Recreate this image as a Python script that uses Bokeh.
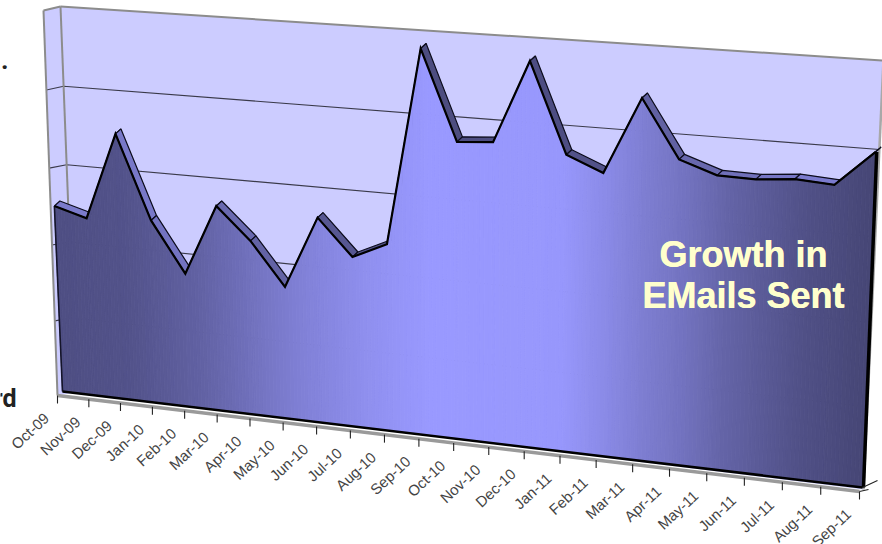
import numpy as np
from bokeh.plotting import figure
from bokeh.models import Range1d
from bokeh.core.properties import value
from bokeh.embed import file_html
from bokeh.resources import INLINE

months = ["Oct-09", "Nov-09", "Dec-09", "Jan-10", "Feb-10", "Mar-10", "Apr-10", "May-10",
          "Jun-10", "Jul-10", "Aug-10", "Sep-10", "Oct-10", "Nov-10", "Dec-10", "Jan-11",
          "Feb-11", "Mar-11", "Apr-11", "May-11", "Jun-11", "Jul-11", "Aug-11", "Sep-11"]
emails_sent = [2.44, 2.32, 3.43, 2.37, 1.73, 2.63, 2.23, 1.69, 2.60, 2.15, 2.35, 4.75,
               3.67, 3.70, 4.69, 3.62, 3.44, 4.35, 3.67, 3.52, 3.51, 3.55, 3.52, 3.93]
grid_levels = [0, 1, 2, 3, 4, 5]
value_max = 5.0
caption_lines = ["Growth in", "EMails Sent"]

WALL = "#ccccff"
EDGE = "#8c8c8c"


def homography(corners):
    """Projective map from the unit square; corners: (0,0), (1,0), (1,1), (0,1)."""
    (x0, y0), (x1, y1), (x2, y2), (x3, y3) = corners
    dx1, dx2, sx = x1 - x2, x3 - x2, x0 - x1 + x2 - x3
    dy1, dy2, sy = y1 - y2, y3 - y2, y0 - y1 + y2 - y3
    det = dx1 * dy2 - dx2 * dy1
    g = (sx * dy2 - dx2 * sy) / det
    h = (dx1 * sy - sx * dy1) / det
    a, b, c = x1 - x0 + g * x1, x3 - x0 + h * x3, x0
    d, e, f = y1 - y0 + g * y1, y3 - y0 + h * y3, y0

    def project(u, w):
        u, w = np.asarray(u, float), np.asarray(w, float)
        q = g * u + h * w + 1
        return (a * u + b * w + c) / q, (d * u + e * w + f) / q
    return project


# Perspective planes of the 3-D area chart
front = homography([(62, 391), (862, 487), (879, 56), (45, 3)])
back = homography([(75, 392), (863, 489), (883, 60), (60, 6)])
floor_edge = homography([(57, 395), (859, 491), (879, 63), (43, 10)])

n = len(months)
u_pos = np.arange(n) / (n - 1)
levels = np.array(emails_sent) / value_max
top_x, top_y = front(u_pos, levels)

# Horizontal colour ramp of the front face, along the page
ramp_x = [60, 130, 200, 300, 370, 430, 560, 600, 640, 680, 720, 800, 860]
ramp_shade = [0.12, 0.17, 0.34, 0.70, 0.89, 1.00, 0.98, 0.84, 0.68, 0.55, 0.38, 0.14, 0.03]


def shade(t):
    dark, light = np.array([0x44, 0x44, 0x72]), np.array([0x99, 0x99, 0xff])
    rgb = dark + (light - dark) * t
    return "#%02x%02x%02x" % tuple(int(round(c)) for c in rgb)


p = figure(width=882, height=544, output_backend="svg", toolbar_location=None,
           x_range=Range1d(0, 882), y_range=Range1d(544, 0), min_border=0,
           outline_line_color=None, background_fill_color="white")
p.xaxis.visible = False
p.yaxis.visible = False
p.xgrid.visible = False
p.ygrid.visible = False

# Back wall and side wall
bx, by = back([0, 1, 1, 0], [0, 0, 1, 1])
sx, sy = floor_edge([0, 0], [0, 1])
p.patch(list(bx), list(by), fill_color=WALL, line_color=None)
p.patch([bx[0], bx[3], sx[1], sx[0]], [by[0], by[3], sy[1], sy[0]], fill_color=WALL, line_color=None)

for lv in grid_levels[1:-1]:
    gx, gy = back([0, 1], [lv / value_max] * 2)
    ex, ey = floor_edge([0], [lv / value_max])
    p.line([ex[0], gx[0], gx[1]], [ey[0], gy[0], gy[1]], line_color="#3a3a4a", line_width=1.1)

p.line([bx[3], bx[2]], [by[3], by[2]], line_color=EDGE, line_width=2)
p.line([bx[3], bx[0]], [by[3], by[0]], line_color=EDGE, line_width=2)
p.line([sx[1], sx[0]], [sy[1], sy[0]], line_color=EDGE, line_width=2)
p.line([sx[1], bx[3]], [sy[1], by[3]], line_color=EDGE, line_width=2)
p.line([bx[2], bx[1]], [by[2], by[1]], line_color="#a8a8a8", line_width=2.5)

# Top ribbon of the area, running back from the front face
dx, dy = 5.5, -5.0
rib_x, rib_y, rib_c = [], [], []
for i in range(n - 1):
    rib_x.append([top_x[i], top_x[i + 1], top_x[i + 1] + dx, top_x[i] + dx])
    rib_y.append([top_y[i], top_y[i + 1], top_y[i + 1] + dy, top_y[i] + dy])
    mid = (top_x[i] + top_x[i + 1]) / 2
    rib_c.append(shade(0.72 - 0.62 * float(np.interp(mid, ramp_x, ramp_shade))))
p.patches(rib_x, rib_y, fill_color=rib_c, line_color="#0c0c1c", line_width=1.2)

# Floor strip along the front
fx, fy = floor_edge([0, 1], [0, 0])
p.line(list(fx), list(fy), line_color="#9a9a9a", line_width=3.5)

# Front face, painted in narrow bands to carry the horizontal colour ramp
band_u = np.unique(np.concatenate([u_pos, np.linspace(0, 1, 221)]))
band_w = np.interp(band_u, u_pos, levels)
xs, ys, cs = [], [], []
for i in range(len(band_u) - 1):
    u0, u1 = band_u[i], band_u[i + 1]
    qx, qy = front([u0, u1, u1, u0], [0, 0, band_w[i + 1], band_w[i]])
    xs.append(list(qx))
    ys.append(list(qy))
    cs.append(shade(float(np.interp((qx[0] + qx[1]) / 2, ramp_x, ramp_shade))))
p.patches(xs, ys, fill_color=cs, line_color=cs, line_width=0.8)

# Outline of the front face
ox0, oy0 = front([0, 0], [0, levels[0]])
p.line(list(ox0), list(oy0), line_color="#15152a", line_width=1.6)
p.line(list(top_x), list(top_y), line_color="black", line_width=2.2, line_join="miter")
bl_x, bl_y = front([0, 1], [0, 0])
p.line(list(bl_x), list(bl_y), line_color="black", line_width=2.6)
ox1, oy1 = front([1, 1], [0, levels[-1]])
p.line(list(ox1 + 1), list(oy1), line_color="black", line_width=3.5)

# Category ticks and labels
tx, ty = floor_edge(u_pos, np.zeros(n))
for x, y in zip(tx, ty):
    p.line([x, x], [y, y + 8], line_color="#222222", line_width=1.1)
p.text(tx - 11, ty + 20, text=months, angle=np.radians(43), angle_units="rad",
       text_align="right", text_baseline="middle", text_color="#444444",
       text_font=value("Liberation Sans"), text_font_size="15px")

# Small depth ticks at the right corner
p.line([ox1[0], ox1[0] + 15], [oy1[0], oy1[0] - 7], line_color="#222222", line_width=1.1)
p.line([tx[-1], tx[-1] + 9], [ty[-1], ty[-1] - 2], line_color="#222222", line_width=1.1)

# Caption on the area, set twice with a hair of offset for a heavier face
for line, cy in zip(caption_lines, [254, 295]):
    for off in (-0.3, 0.3):
        p.text([743 + off], [cy], text=[line], text_align="center", text_baseline="middle",
               text_color="#ffffcc", text_font=value("Liberation Sans"),
               text_font_size="36px", text_font_style="bold")

# Neighbouring slide text cut off by the page edge
p.text([8], [59], text=["l."], text_align="right", text_baseline="alphabetic",
       text_color="#222222", text_font=value("Roboto"),
       text_font_size="26px", text_font_style="bold")
p.text([16], [398], text=["rd"], text_align="right", text_baseline="alphabetic",
       text_color="#222222", text_font=value("Roboto"),
       text_font_size="25px", text_font_style="bold")

open("out.html", "w").write(file_html(p, INLINE))
